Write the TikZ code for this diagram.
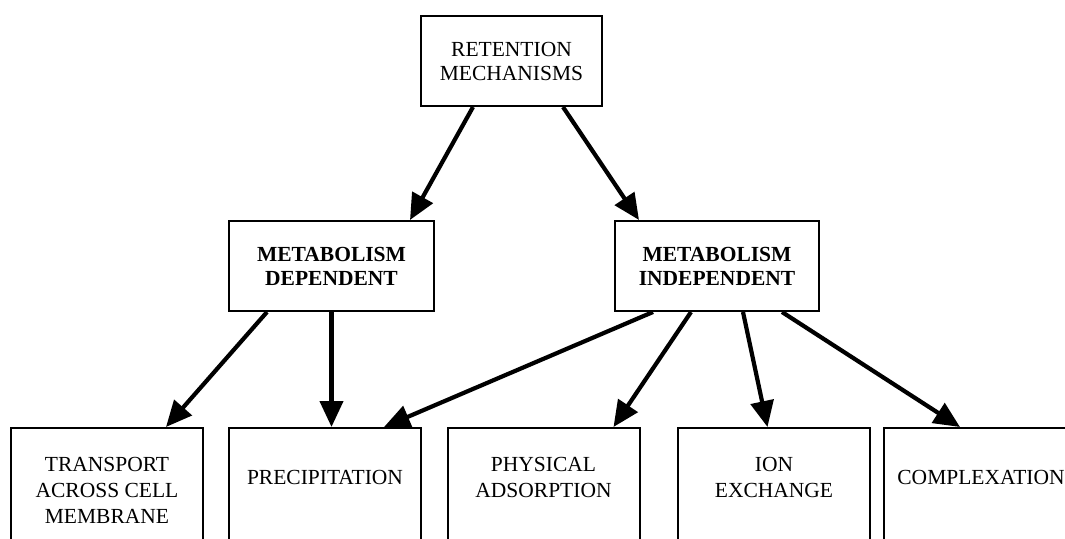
\documentclass[tikz,border=0pt]{standalone}
\usepackage{fontspec}
\setmainfont{Liberation Serif}
\usetikzlibrary{arrows.meta}
\tikzset{
	box/.style={draw, line width=2pt, minimum width=205, minimum height=90, align=center, inner sep=0pt, font=\fontsize{21.5}{24}\selectfont},
	lowbox/.style={draw, line width=2pt, minimum width=192, minimum height=150, anchor=north, inner sep=0pt},
	lbl/.style={align=center, inner sep=0pt, font=\fontsize{21.5}{26}\selectfont},
	arr/.style={-{Triangle[length=26pt,width=23pt]}, line width=4.2pt}
}
\begin{document}
\begin{tikzpicture}[x=1pt, y=-1pt]
		\clip (0,0) rectangle (1065,538);
		
		\node[box, minimum width=181] (ret) at (511.5,61) {RETENTION\\MECHANISMS};
		\node[box, font=\fontsize{21.5}{24}\selectfont\bfseries] (md) at (331.5,266) {METABOLISM\\DEPENDENT};
		\node[box, minimum width=204, font=\fontsize{21.5}{24}\selectfont\bfseries] (mi) at (717,266) {METABOLISM\\INDEPENDENT};
		
		\node[lowbox] (trans) at (107,427) {};
		\node[lowbox] (prec) at (325,427) {};
		\node[lowbox] (phys) at (543.5,427) {};
		\node[lowbox] (ion) at (774,427) {};
		\node[lowbox] (comp) at (980,427) {};
		
		\node[lbl] (transtxt) at (107,490) {TRANSPORT\\ACROSS CELL\\MEMBRANE};
		\node[lbl] (prectxt) at (325,477) {PRECIPITATION};
		\node[lbl] (phystxt) at (543.5,477) {PHYSICAL\\ADSORPTION};
		\node[lbl] (iontxt) at (774,477) {ION\\EXCHANGE};
		\node[lbl] (comptxt) at (981,477) {COMPLEXATION};
		
		\draw [arr] ([xshift=-38.5]ret.south) -- ([xshift=78.5]md.north);
		\draw [arr] ([xshift=51.5]ret.south) -- ([xshift=-78]mi.north);
		
		\draw [arr] ([xshift=-64.5]md.south) -- ([xshift=59]trans.north);
		\draw [arr] (md.south) -- ([xshift=6.5]prec.north);
		
		\draw [arr] ([xshift=-64]mi.south) -- ([xshift=59]prec.north);
		\draw [arr] ([xshift=-26]mi.south) -- ([xshift=70]phys.north);
		\draw [arr] ([xshift=26]mi.south) -- ([xshift=-6.5]ion.north);
		\draw [arr] ([xshift=65]mi.south) -- ([xshift=-20]comp.north);
	\end{tikzpicture}
\end{document}
